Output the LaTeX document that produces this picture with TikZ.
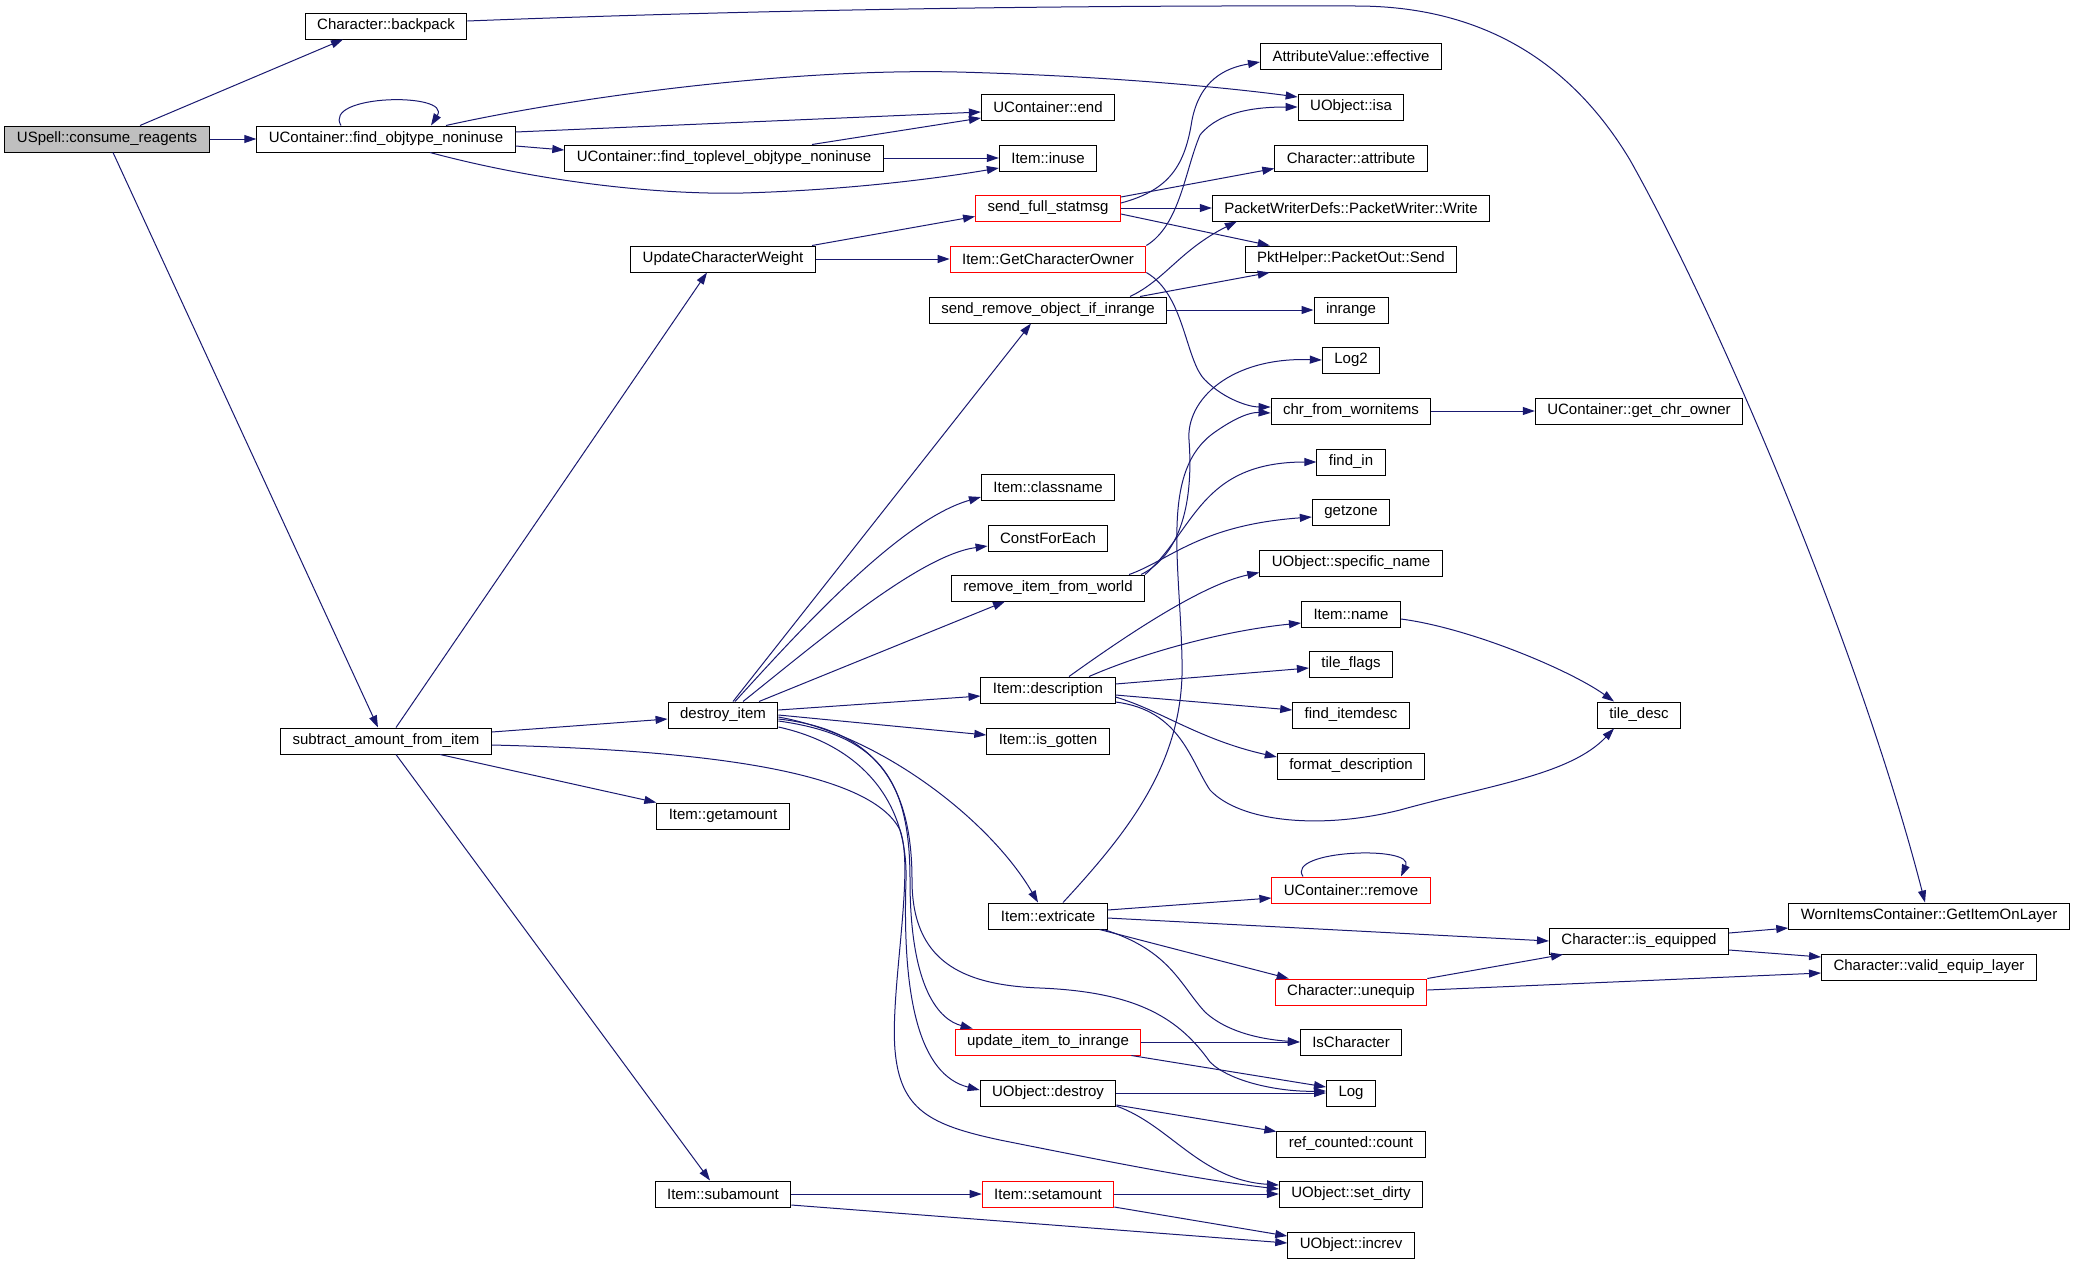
\documentclass[tikz,border=0pt]{standalone}
\usepackage{fontspec}
\setmainfont{Liberation Sans}
\usetikzlibrary{arrows.meta,calc}
\definecolor{callblue}{RGB}{25,25,112}
\begin{document}
\begin{tikzpicture}[x=0.5pt,y=-0.5pt,>={Triangle[length=6pt,width=4pt]},
  fn/.style={draw,line width=0.5pt,inner xsep=6pt,inner ysep=0pt,minimum height=13pt,font=\fontsize{7.5pt}{9pt}\selectfont},
  fnred/.style={fn,draw=red},
  fnroot/.style={fn,fill=black!25},
  call/.style={->,draw=callblue,line width=0.5pt}]
\useasboundingbox (0,0) rectangle (2075,1264);
% functions
\node[fnroot] (cr) at (107,139) {USpell::consume\_reagents};
\node[fn] (bp) at (386,26) {Character::backpack};
\node[fn] (fo) at (386,139) {UContainer::find\_objtype\_noninuse};
\node[fn] (saf) at (386,741) {subtract\_amount\_from\_item};
\node[fn] (ft) at (724,158) {UContainer::find\_toplevel\_objtype\_noninuse};
\node[fn] (ucw) at (723,259) {UpdateCharacterWeight};
\node[fn] (di) at (723,715) {destroy\_item};
\node[fn] (gam) at (723,816) {Item::getamount};
\node[fn] (sub) at (723,1194) {Item::subamount};
\node[fn] (cend) at (1048,107) {UContainer::end};
\node[fn] (inuse) at (1048,158) {Item::inuse};
\node[fnred] (fsm) at (1048,208) {send\_full\_statmsg};
\node[fnred] (gco) at (1048,259) {Item::GetCharacterOwner};
\node[fn] (sro) at (1048,310) {send\_remove\_object\_if\_inrange};
\node[fn] (icn) at (1048,487) {Item::classname};
\node[fn] (cfe) at (1048,538) {ConstForEach};
\node[fn] (rifw) at (1048,588) {remove\_item\_from\_world};
\node[fn] (desc) at (1048,690) {Item::description};
\node[fn] (isg) at (1048,741) {Item::is\_gotten};
\node[fn] (ext) at (1048,916) {Item::extricate};
\node[fnred] (uir) at (1048,1042) {update\_item\_to\_inrange};
\node[fn] (uod) at (1048,1093) {UObject::destroy};
\node[fnred] (sam) at (1048,1194) {Item::setamount};
\node[fn] (ave) at (1351,56) {AttributeValue::effective};
\node[fn] (isa) at (1351,107) {UObject::isa};
\node[fn] (cattr) at (1351,158) {Character::attribute};
\node[fn] (pww) at (1351,208) {PacketWriterDefs::PacketWriter::Write};
\node[fn] (pos) at (1351,259) {PktHelper::PacketOut::Send};
\node[fn] (inr) at (1351,310) {inrange};
\node[fn] (log2) at (1351,360) {Log2};
\node[fn] (cfw) at (1351,411) {chr\_from\_wornitems};
\node[fn] (fin) at (1351,462) {find\_in};
\node[fn] (gz) at (1351,512) {getzone};
\node[fn] (spn) at (1351,563) {UObject::specific\_name};
\node[fn] (iname) at (1351,614) {Item::name};
\node[fn] (tf) at (1351,664) {tile\_flags};
\node[fn] (fid) at (1351,715) {find\_itemdesc};
\node[fn] (fd) at (1351,766) {format\_description};
\node[fnred] (ucr) at (1351,890) {UContainer::remove};
\node[fnred] (uneq) at (1351,992) {Character::unequip};
\node[fn] (isc) at (1351,1042) {IsCharacter};
\node[fn] (log) at (1351,1093) {Log};
\node[fn] (rcc) at (1351,1144) {ref\_counted::count};
\node[fn] (sd) at (1351,1194) {UObject::set\_dirty};
\node[fn] (inc) at (1351,1245) {UObject::increv};
\node[fn] (gcown) at (1639,411) {UContainer::get\_chr\_owner};
\node[fn] (td) at (1639,715) {tile\_desc};
\node[fn] (ieq) at (1639,941) {Character::is\_equipped};
\node[fn] (gil) at (1929,916) {WornItemsContainer::GetItemOnLayer};
\node[fn] (vel) at (1929,967) {Character::valid\_equip\_layer};
% calls
\draw[call] ($(cr.north)+(33,0)$) -- ($(bp.south)+(-43,0)$);
\draw[call] (cr.east) -- (fo.west);
\draw[call] ($(cr.south)+(6,0)$) -- ($(saf.north)+(-8,0)$);
\draw[call] ($(fo.north)+(-45,0)$) .. controls (322,94) and (452,92) .. ($(fo.north)+(45,0)$);
\draw[call] ($(fo.north)+(60,0)$) .. controls (560,100) and (780,68) .. (957,72) .. controls (1110,76) and (1230,88) .. ($(isa.west)+(0,-10)$);
\draw[call] ($(fo.east)+(0,-7)$) -- ($(cend.west)+(0,5)$);
\draw[call] ($(fo.east)+(0,7)$) -- ($(ft.west)+(0,-8)$);
\draw[call] ($(fo.south)+(44,0)$) .. controls (540,182) and (660,195) .. (743,193) .. controls (850,190) and (940,178) .. ($(inuse.west)+(0,10)$);
\draw[call] ($(ft.north)+(88,0)$) -- ($(cend.west)+(0,11)$);
\draw[call] (ft.east) -- (inuse.west);
\draw[call] ($(bp.east)+(0,-5)$) .. controls (700,12) and (1000,5) .. (1356,6) .. controls (1480,6) and (1570,60) .. (1630,160) .. controls (1720,320) and (1860,650) .. ($(gil.north)+(-4,0)$);
\draw[call] ($(ucw.north)+(89,0)$) -- ($(fsm.south west)+(0,-5)$);
\draw[call] (ucw.east) -- (gco.west);
\draw[call] ($(saf.north)+(10,0)$) -- ($(ucw.south)+(-16,0)$);
\draw[call] ($(fsm.east)+(0,-5)$) .. controls (1170,190) and (1185,165) .. (1192,120) .. controls (1200,80) and (1225,68) .. ($(ave.west)+(0,6)$);
\draw[call] ($(fsm.east)+(0,-11)$) -- ($(cattr.south west)+(0,-3)$);
\draw[call] (fsm.east) -- (pww.west);
\draw[call] ($(fsm.east)+(0,6)$) -- ($(pos.north west)+(25,0)$);
\draw[call] (gco.north east) .. controls (1180,225) and (1185,170) .. (1200,135) .. controls (1220,110) and (1260,107) .. (isa.west);
\draw[call] (gco.south east) .. controls (1185,295) and (1185,360) .. (1205,380) .. controls (1225,400) and (1250,407) .. ($(cfw.west)+(0,-4)$);
\draw[call] ($(sro.north)+(82,0)$) .. controls (1165,280) and (1180,250) .. ($(pww.south west)+(25,0)$);
\draw[call] ($(sro.north)+(92,0)$) -- ($(pos.south west)+(25,0)$);
\draw[call] (sro.east) -- (inr.west);
\draw[call] ($(di.north)+(10,0)$) -- ($(sro.south)+(-17,0)$);
\draw[call] ($(di.north)+(12,0)$) .. controls (800,630) and (900,520) .. ($(icn.west)+(0,10)$);
\draw[call] ($(di.north)+(20,0)$) .. controls (820,640) and (920,555) .. ($(cfe.west)+(0,8)$);
\draw[call] ($(di.north)+(36,0)$) -- ($(rifw.south)+(-43,0)$);
\draw[call] ($(di.east)+(0,-5)$) -- ($(desc.west)+(0,6)$);
\draw[call] (di.east) -- ($(isg.west)+(0,-6)$);
\draw[call] ($(di.east)+(0,2)$) .. controls (880,735) and (990,820) .. ($(ext.north)+(-10,0)$);
\draw[call] ($(di.east)+(0,6)$) .. controls (880,735) and (910,780) .. (910,880) .. controls (910,990) and (940,1020) .. ($(uir.north west)+(18,0)$);
\draw[call] ($(di.east)+(0,12)$) .. controls (860,745) and (908,800) .. (906,880) .. controls (902,1000) and (920,1075) .. ($(uod.west)+(0,-3)$);
\draw[call] ($(di.east)+(0,4)$) .. controls (880,730) and (912,790) .. (912,880) .. controls (912,960) and (960,985) .. (1040,988) .. controls (1140,992) and (1180,1020) .. (1210,1062) .. controls (1230,1082) and (1280,1092) .. ($(log.west)+(0,-2)$);
\draw[call] ($(saf.east)+(0,4)$) .. controls (700,750) and (870,770) .. (900,830) .. controls (915,870) and (890,990) .. (895,1050) .. controls (900,1110) and (930,1125) .. (1000,1140) .. controls (1100,1160) and (1200,1180) .. ($(sd.west)+(0,-5)$);
\draw[call] ($(saf.east)+(0,-9)$) -- ($(di.west)+(0,4)$);
\draw[call] ($(saf.south)+(54,0)$) -- (gam.north west);
\draw[call] ($(saf.south)+(10,0)$) -- ($(sub.north)+(-13,0)$);
\draw[call] (sub.east) -- (sam.west);
\draw[call] ($(sub.east)+(0,11)$) -- ($(inc.west)+(0,-2)$);
\draw[call] (sam.east) -- (sd.west);
\draw[call] ($(sam.east)+(0,13)$) -- ($(inc.west)+(0,-9)$);
\draw[call] (uod.east) -- (log.west);
\draw[call] ($(uod.east)+(0,12)$) -- ($(rcc.north west)+(0,1)$);
\draw[call] ($(uod.east)+(0,13)$) .. controls (1170,1125) and (1200,1180) .. ($(sd.west)+(0,-9)$);
\draw[call] (uir.east) -- (isc.west);
\draw[call] ($(uir.south east)+(-10,0)$) -- ($(log.west)+(0,-6)$);
\draw[call] ($(ext.east)+(0,-6)$) -- ($(ucr.west)+(0,8)$);
\draw[call] ($(ext.east)+(0,2)$) -- (ieq.west);
\draw[call] ($(ext.south east)+(-8,0)$) -- ($(uneq.north west)+(14,0)$);
\draw[call] ($(ext.south east)+(-4,0)$) .. controls (1170,950) and (1180,985) .. (1205,1012) .. controls (1230,1035) and (1270,1040) .. (isc.west);
\draw[call] ($(ext.north)+(15,0)$) .. controls (1130,830) and (1185,760) .. (1182,660) .. controls (1180,560) and (1160,470) .. (1215,432) .. controls (1235,418) and (1250,412) .. ($(cfw.west)+(0,2)$);
\draw[call] ($(rifw.north east)+(-4,0)$) .. controls (1190,550) and (1192,480) .. (1189,440) .. controls (1186,400) and (1230,357) .. (log2.west);
\draw[call] (rifw.north east) .. controls (1195,530) and (1200,462) .. (fin.west);
\draw[call] ($(rifw.north east)+(-16,0)$) .. controls (1170,560) and (1200,525) .. ($(gz.west)+(0,5)$);
\draw[call] ($(desc.north)+(21,0)$) .. controls (1120,640) and (1200,585) .. ($(spn.south west)+(0,-4)$);
\draw[call] ($(desc.north)+(41,0)$) .. controls (1150,650) and (1230,630) .. ($(iname.west)+(0,9)$);
\draw[call] ($(desc.east)+(0,-6)$) -- ($(tf.west)+(0,4)$);
\draw[call] ($(desc.east)+(0,5)$) -- ($(fid.west)+(0,-5)$);
\draw[call] ($(desc.east)+(0,7)$) .. controls (1160,710) and (1200,740) .. ($(fd.west)+(0,-9)$);
\draw[call] ($(desc.east)+(0,12)$) .. controls (1180,710) and (1190,760) .. (1210,790) .. controls (1240,822) and (1320,830) .. (1400,810) .. controls (1490,785) and (1570,775) .. ($(td.south)+(-25,0)$);
\draw[call] ($(iname.east)+(0,5)$) .. controls (1470,628) and (1570,670) .. ($(td.north)+(-25,0)$);
\draw[call] (cfw.east) -- (gcown.west);
\draw[call] ($(ucr.north)+(-48,0)$) .. controls (1285,850) and (1415,845) .. ($(ucr.north)+(50,0)$);
\draw[call] (uneq.north east) -- ($(ieq.south west)+(14,0)$);
\draw[call] ($(uneq.east)+(0,-2)$) -- ($(vel.west)+(0,6)$);
\draw[call] ($(ieq.east)+(0,-8)$) -- ($(gil.west)+(0,12)$);
\draw[call] ($(ieq.east)+(0,9)$) -- ($(vel.west)+(0,-10)$);
\end{tikzpicture}
\end{document}
